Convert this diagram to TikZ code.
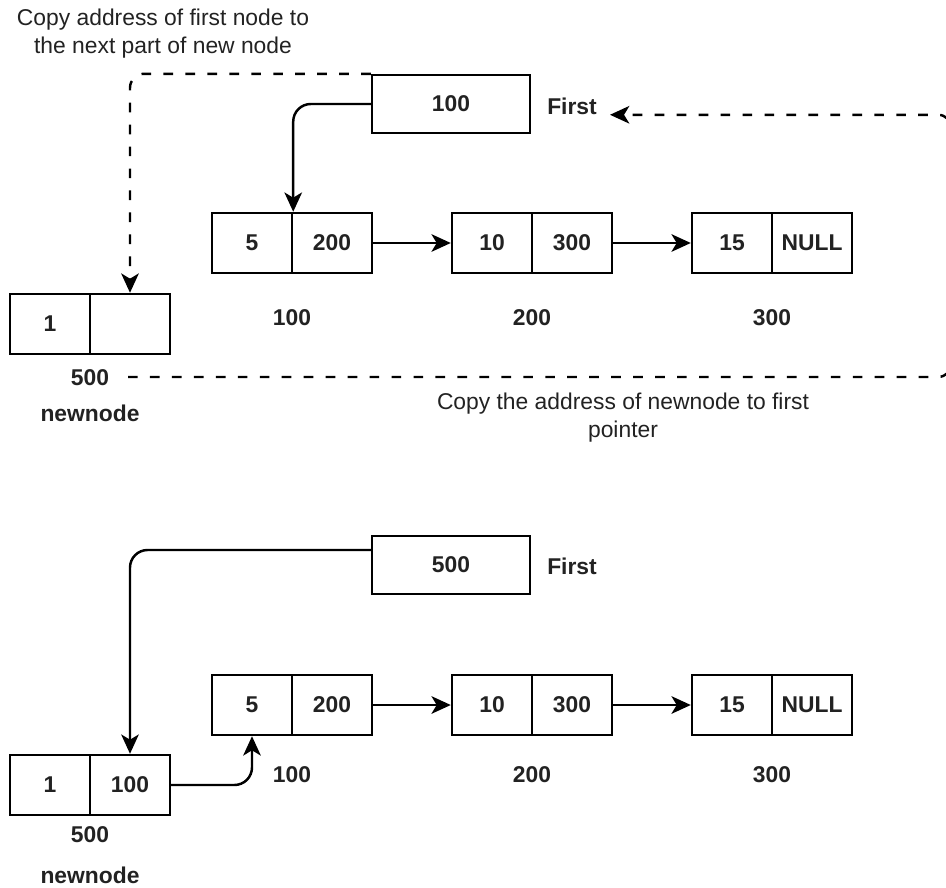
\documentclass[tikz,border=0pt]{standalone}
\usepackage{fontspec}
\setmainfont{Liberation Sans}
\usetikzlibrary{arrows.meta}
\definecolor{metin}{HTML}{222222}

\begin{document}
\begin{tikzpicture}[x=0.02cm,y=-0.02cm,font=\fontsize{13}{16}\selectfont\bfseries,text=metin,
  cell/.style={draw,line width=1.4pt,minimum width=1.6cm,minimum height=1.2cm,inner sep=0pt},
  ptrbox/.style={draw,line width=1.4pt,minimum width=3.16cm,minimum height=1.16cm,inner sep=0pt},
  note/.style={align=center,font=\fontsize{13}{16}\selectfont},
  link/.style={line width=1.4pt,-{Stealth[length=11pt,width=10pt,inset=3pt]}},
  copyline/.style={link,dash pattern=on 5.5pt off 7pt,rounded corners=8pt}]
\useasboundingbox (0,0) rectangle (946,888);
\node[note] (note1) at (163,34) {Copy address of first node to\\the next part of new node};
\node[ptrbox] (first1) at (451,104) {100};
\node (firstlbl1) at (572,106) {First};
\node[cell] (a1) at (252,243) {5};
\node[cell] (a1p) at (332,243) {200};
\node[cell] (b1) at (492,243) {10};
\node[cell] (b1p) at (572,243) {300};
\node[cell] (c1) at (732,243) {15};
\node[cell] (c1p) at (812,243) {NULL};
\node (adr1a) at (292,318) {100};
\node (adr1b) at (532,318) {200};
\node (adr1c) at (772,318) {300};
\node[cell] (nw1) at (50,324) {1};
\node[cell] (nw1p) at (130,324) {};
\node (adr1n) at (90,378) {500};
\node (nwlbl1) at (90,413) {newnode};
\node[note] (note2) at (623,418) {Copy the address of newnode to first\\pointer};
\coordinate (dstart) at (128,377);
\coordinate (rbend) at (952,377);
\draw[link,rounded corners=10pt] (first1.west) -| (a1.north east);
\draw[link] (a1p.east) -- (b1.west);
\draw[link] (b1p.east) -- (c1.west);
\draw[copyline] (first1.north west) -| (nw1p.north);
\draw[copyline] (dstart) -- (rbend) |- ([xshift=4pt,yshift=-5pt]firstlbl1.east);

\node[ptrbox] (first2) at (451,565) {500};
\node (firstlbl2) at (572,566) {First};
\node[cell] (a2) at (252,705) {5};
\node[cell] (a2p) at (332,705) {200};
\node[cell] (b2) at (492,705) {10};
\node[cell] (b2p) at (572,705) {300};
\node[cell] (c2) at (732,705) {15};
\node[cell] (c2p) at (812,705) {NULL};
\node (adr2a) at (292,775) {100};
\node (adr2b) at (532,775) {200};
\node (adr2c) at (772,775) {300};
\node[cell] (nw2) at (50,785) {1};
\node[cell] (nw2p) at (130,785) {100};
\node (adr2n) at (90,835) {500};
\node (nwlbl2) at (90,875) {newnode};
\draw[link,rounded corners=10pt] ([yshift=0.3cm]first2.west) -| (nw2p.north);
\draw[link] (a2p.east) -- (b2.west);
\draw[link] (b2p.east) -- (c2.west);
\draw[link,rounded corners=10pt] (nw2p.east) -| (a2.south);
\end{tikzpicture}
\end{document}
